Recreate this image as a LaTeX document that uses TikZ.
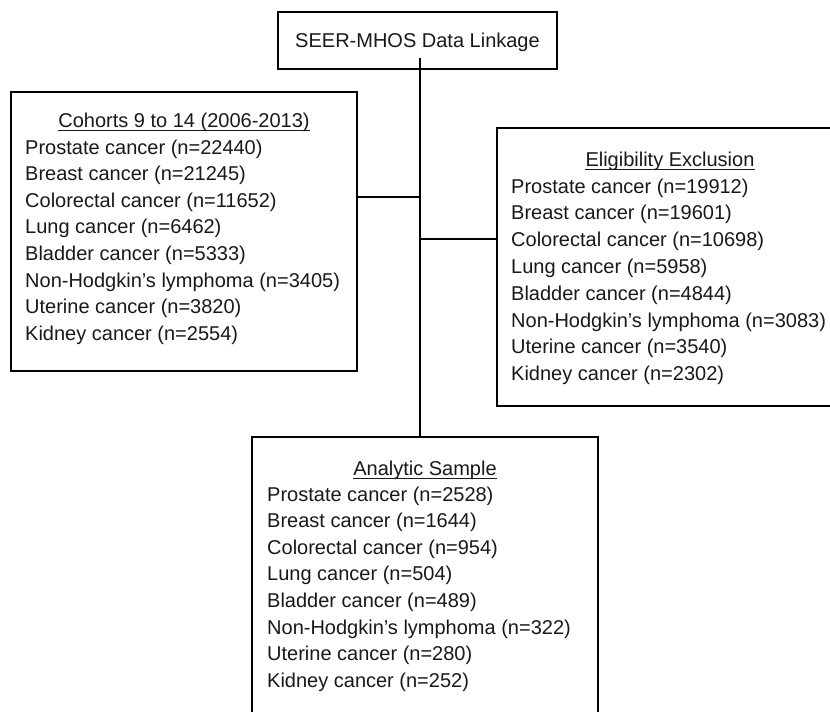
\documentclass[tikz,border=0pt]{standalone}
\usepackage{fontspec}
\setmainfont{Liberation Sans}
\begin{document}
\begin{tikzpicture}[x=1pt,y=-1pt,
  box/.style={draw=black, line width=2.4pt, inner sep=0pt},
  txt/.style={inner sep=0pt, anchor=base west, font=\fontsize{20}{24}\selectfont, text=black!90},
  ttl/.style={inner sep=0pt, anchor=base, font=\fontsize{20}{24}\selectfont, text=black!90},
  conn/.style={line width=1.3pt},
  ul/.style={line width=1.4pt, black!90}]
\useasboundingbox (0,0) rectangle (830,712);
\clip (0,0) rectangle (830,712);
\fill[white] (0,0) rectangle (830,712);

% boxes
\node[box, minimum width=279pt, minimum height=57pt] (top) at (417.5,40.5) {};
\node[box, minimum width=346pt, minimum height=279pt] (left) at (184,231.5) {};
\node[box, minimum width=343pt, minimum height=278pt] (right) at (668.5,267) {};
\node[box, minimum width=346pt, minimum height=293pt] (bot) at (425,583.5) {};

% titles
\node[ttl] (tt) at (417.5,47) {SEER-MHOS Data Linkage};
\node[ttl] (Lt) at (184,127) {Cohorts 9 to 14 (2006-2013)};
\node[ttl] (Rt) at (670,166) {Eligibility Exclusion};
\node[ttl] (Bt) at (425,475) {Analytic Sample};
\foreach \n in {Lt,Rt,Bt}
  \draw[ul] ([yshift=-3.5pt]\n.base west) -- ([yshift=-3.5pt]\n.base east);

% lists
\foreach \t [count=\i from 0] in {Prostate cancer (n=22440),Breast cancer (n=21245),Colorectal cancer (n=11652),Lung cancer (n=6462),Bladder cancer (n=5333),Non-Hodgkin’s lymphoma (n=3405),Uterine cancer (n=3820),Kidney cancer (n=2554)}
  \node[txt] (L\i) at (25,154+26.6*\i) {\t};
\foreach \t [count=\i from 0] in {Prostate cancer (n=19912),Breast cancer (n=19601),Colorectal cancer (n=10698),Lung cancer (n=5958),Bladder cancer (n=4844),Non-Hodgkin’s lymphoma (n=3083),Uterine cancer (n=3540),Kidney cancer (n=2302)}
  \node[txt] (R\i) at (511,193+26.8*\i) {\t};
\foreach \t [count=\i from 0] in {Prostate cancer (n=2528),Breast cancer (n=1644),Colorectal cancer (n=954),Lung cancer (n=504),Bladder cancer (n=489),Non-Hodgkin’s lymphoma (n=322),Uterine cancer (n=280),Kidney cancer (n=252)}
  \node[txt] (B\i) at (267,501+26.6*\i) {\t};

% connectors
\coordinate (vtop) at (420,58);
\coordinate (hL) at (0,197);
\coordinate (hR) at (0,239);
\draw[conn] (vtop) -- (vtop |- bot.north);
\draw[conn] (left.east |- hL) -- (vtop |- hL);
\draw[conn] (vtop |- hR) -- (right.west |- hR);
\end{tikzpicture}
\end{document}
